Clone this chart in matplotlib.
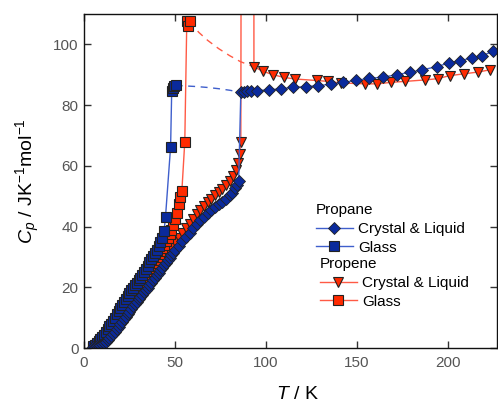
import matplotlib
matplotlib.use("Agg")
import matplotlib.pyplot as plt
from matplotlib.lines import Line2D

plt.rcParams['font.family'] = ['Liberation Sans', 'DejaVu Sans']
plt.rcParams['mathtext.fontset'] = 'custom'
plt.rcParams['mathtext.rm'] = 'Liberation Sans'
plt.rcParams['mathtext.it'] = 'Liberation Sans:italic'

# ---------------- data ----------------
propane_cl_T = [5, 6, 7, 8, 9, 10, 11, 12, 13, 14, 15, 16, 17, 18, 19, 20, 21, 22, 23, 24,
                25, 26, 27, 28, 29, 30, 31, 32, 33, 34, 35, 36, 37, 38, 39, 40, 41, 42, 43, 44,
                45, 46, 47, 48, 49, 50, 52, 54, 56, 58, 60, 62, 64, 66, 68, 70, 72, 74, 76, 78,
                80, 81.5, 83, 84, 85,
                86.2, 87.8, 89.6, 92.0, 95.2, 101.8, 108.2, 115.0, 121.8, 128.8, 135.7, 142.5,
                149.5, 156.8, 164.5, 171.8, 179.1, 185.9, 194.1, 200.7, 206.6, 213.0, 218.8, 224.9]
propane_cl_Cp = [0.2, 0.3, 0.5, 0.7, 0.9, 1.2, 1.6, 2.0, 2.6, 3.2, 3.8, 4.5, 5.3, 6.1, 6.9, 7.8,
                 8.6, 9.5, 10.3, 11.2, 12.0, 12.8, 13.7, 14.5, 15.3, 16.0, 16.8, 17.5, 18.3, 19.1,
                 19.9, 20.7, 21.5, 22.4, 23.1, 23.9, 24.8, 25.6, 26.4, 27.2, 28.1, 29.0, 29.8, 30.6,
                 31.4, 32.2, 33.7, 35.2, 36.6, 38.0, 39.4, 40.7, 42.0, 43.2, 44.3, 45.4, 46.4, 47.3,
                 48.2, 49.2, 50.3, 51.2, 52.6, 53.6, 55.0,
                 84.2, 84.4, 84.6, 84.7, 84.8, 85.0, 85.4, 85.8, 86.1, 86.4, 86.9, 87.5,
                 88.1, 88.8, 89.2, 90.0, 90.8, 91.6, 92.7, 93.9, 94.6, 95.5, 96.3, 97.7]

propane_gl_T = [5, 6, 7, 8, 9, 10, 11, 12, 13, 14, 15, 16, 17, 18, 19, 20, 21, 22, 23, 24,
                25, 26, 27, 28, 29, 30, 31, 32, 33, 34, 35, 36, 37, 38, 39, 40, 41, 42, 43, 44,
                44.8, 47.6, 48.2, 48.8, 49.5, 50.4]
propane_gl_Cp = [0.6, 1.0, 1.6, 2.2, 2.9, 3.6, 4.4, 5.2, 6.1, 7.1, 8.0, 9.0, 10.0, 11.1, 12.2,
                 13.3, 14.3, 15.3, 16.3, 17.2, 18.1, 19.0, 19.8, 20.6, 21.5, 22.4, 23.2, 24.1,
                 25.0, 25.9, 27.0, 28.2, 29.3, 30.4, 31.4, 32.4, 33.5, 34.8, 36.3, 38.5,
                 43.2, 66.3, 84.5, 85.5, 86.2, 86.5]

propene_cl_T = [5, 6, 7, 8, 9, 10, 11, 12, 13, 14, 15, 16, 17, 18, 19, 20, 21, 22, 23, 24,
                25, 26, 27, 28, 29, 30, 31, 32, 33, 34, 35, 36, 37, 38, 39, 40, 41, 42, 43, 44,
                45, 46, 48, 50, 52, 54, 56, 58, 60, 62, 64, 66, 68, 70, 72, 74, 76, 78, 80, 82,
                83.5, 84.5, 85.5, 86.2,
                87.0, 93.2,
                93.4, 98.5, 104.0, 110.0, 116.0, 127.8, 134.2, 141.0, 154.4, 161.3, 169.0,
                176.4, 187.7, 194.3, 201.0, 209.0, 216.7, 223.0]
propene_cl_Cp = [0.2, 0.4, 0.6, 0.9, 1.2, 1.6, 2.1, 2.7, 3.3, 4.0, 4.7, 5.4, 6.1, 6.8, 7.5, 8.2,
                 9.1, 10.0, 10.9, 11.8, 12.8, 13.7, 14.7, 15.6, 16.5, 17.4, 18.3, 19.2, 20.1, 21.0,
                 21.9, 22.8, 23.7, 24.6, 25.5, 26.4, 27.3, 28.2, 29.1, 30.0, 31.0, 31.8, 33.3, 34.8,
                 36.3, 37.9, 39.4, 41.0, 42.6, 44.2, 45.5, 46.8, 48.0, 49.2, 50.3, 51.4, 52.5, 53.6,
                 55.0, 56.8, 58.5, 60.8, 64.0, 68.0,
                 400.0, 400.0,
                 92.6, 91.1, 90.0, 89.1, 88.6, 88.1, 87.8, 87.3, 87.0, 87.0, 87.5,
                 87.8, 88.3, 88.7, 89.7, 90.3, 90.9, 91.6]

propene_gl_T = [5, 6, 7, 8, 9, 10, 11, 12, 13, 14, 15, 16, 17, 18, 19, 20, 21, 22, 23, 24,
                25, 26, 27, 28, 29, 30, 31, 32, 33, 34, 35, 36, 37, 38, 39, 40, 41, 42, 43, 44,
                45, 46, 47, 48, 49, 50, 51, 52, 53, 53.8, 55.4, 56.5, 57.3, 58.2]
propene_gl_Cp = [0.4, 0.8, 1.3, 1.9, 2.5, 3.2, 3.9, 4.7, 5.5, 6.4, 7.3, 8.2, 9.2, 10.2, 11.2,
                 12.2, 13.2, 14.1, 15.0, 15.9, 16.8, 17.7, 18.5, 19.3, 20.1, 21.0, 21.8, 22.7,
                 23.5, 24.4, 25.3, 26.2, 27.1, 28.0, 29.0, 29.9, 30.9, 31.9, 32.9, 34.0, 35.1,
                 36.3, 37.6, 39.0, 40.6, 42.5, 44.6, 47.5, 49.8, 51.8, 68.0, 107.6, 106.0, 107.6]

# dashed guide lines (glass -> liquid)
propane_dash_T = [50.4, 56, 62, 68, 74, 80, 86.2]
propane_dash_Cp = [86.5, 86.3, 86.1, 85.8, 85.4, 84.9, 84.2]
propene_dash_T = [58.2, 63, 68, 74, 80, 86, 93.4]
propene_dash_Cp = [107.6, 104.0, 101.3, 98.6, 96.3, 94.3, 92.6]

xticks = [0, 50, 100, 150, 200]
yticks = [0, 20, 40, 60, 80, 100]

# ---------------- style ----------------
blue_face = '#0a2a9c'
blue_line = '#3f5fcc'
red_face = '#ff2a00'
red_line = '#ff5a45'
edge = '#222222'

fig = plt.figure(figsize=(4.98, 4.03), dpi=100)
ax = fig.add_axes([84 / 498, 55 / 403, 413 / 498, 334 / 403])

ax.plot(propane_dash_T, propane_dash_Cp, '--', color=blue_line, lw=1.0, dashes=(5, 4))
ax.plot(propene_dash_T, propene_dash_Cp, '--', color=red_line, lw=1.0, dashes=(5, 4))

ax.plot(propene_cl_T, propene_cl_Cp, '-', color=red_line, lw=1.0,
        marker='v', ms=7.5, mfc=red_face, mec=edge, mew=0.8)
ax.plot(propene_gl_T, propene_gl_Cp, '-', color=red_line, lw=1.0,
        marker='s', ms=7, mfc=red_face, mec=edge, mew=0.8)
ax.plot(propane_gl_T, propane_gl_Cp, '-', color=blue_line, lw=1.0,
        marker='s', ms=7, mfc=blue_face, mec=edge, mew=0.8)
ax.plot(propane_cl_T, propane_cl_Cp, '-', color=blue_line, lw=1.0,
        marker='D', ms=6.3, mfc=blue_face, mec=edge, mew=0.6)

ax.set_xlim(0, 227)
ax.set_ylim(0, 110)
ax.set_xticks(xticks)
ax.set_yticks(yticks)
ax.tick_params(direction='in', top=True, right=True, length=5, width=1,
               color='#333333', labelcolor='#555555', labelsize=11)
ax.tick_params(axis='x', pad=6)
ax.tick_params(axis='y', pad=4)
for s in ax.spines.values():
    s.set_linewidth(1.0)
    s.set_color('#111111')

ax.set_xlabel(r'$T$ / K', fontsize=14)
ax.set_ylabel(r'$C_p$ / JK$^{-1}$mol$^{-1}$', fontsize=14)
ax.xaxis.set_label_coords((297 - 84) / 413, (348 - 386) / 334)
ax.yaxis.set_label_coords((42 - 84) / 413, 0.5)

# legends
h1 = Line2D([], [], color=blue_line, lw=1.0, marker='D', ms=6.3, mfc=blue_face, mec=edge, mew=0.6)
h2 = Line2D([], [], color=blue_line, lw=1.0, marker='s', ms=7, mfc=blue_face, mec=edge, mew=0.8)
h3 = Line2D([], [], color=red_line, lw=1.0, marker='v', ms=7.5, mfc=red_face, mec=edge, mew=0.8)
h4 = Line2D([], [], color=red_line, lw=1.0, marker='s', ms=7, mfc=red_face, mec=edge, mew=0.8)

common = dict(frameon=False, fontsize=11, title_fontsize=11, alignment='left',
              handlelength=2.4, handletextpad=0.35, labelspacing=0.32, borderpad=0,
              borderaxespad=0, loc='upper left')
leg1 = ax.legend([h1, h2], ['Crystal & Liquid', 'Glass'], title='Propane',
                 bbox_to_anchor=((316 - 84) / 413, (348 - 203) / 334), **common)
ax.add_artist(leg1)
leg2 = ax.legend([h3, h4], ['Crystal & Liquid', 'Glass'], title='Propene',
                 bbox_to_anchor=((320 - 84) / 413, (348 - 257) / 334), **common)

fig.savefig('out.png', dpi=100)
